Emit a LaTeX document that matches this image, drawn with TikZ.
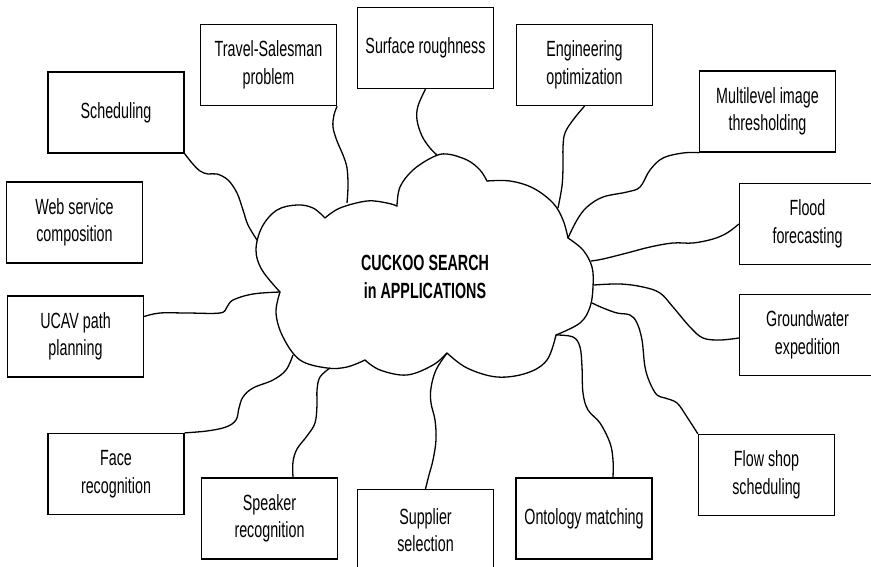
\documentclass[tikz,border=0pt]{standalone}
\usepackage{fontspec}
\setmainfont{Liberation Sans}[FakeStretch=0.65]
\begin{document}
\begin{tikzpicture}[x=1pt,y=-1pt, line width=1.3pt,
  box/.style={draw, minimum width=136pt, minimum height=81pt, align=center, inner sep=0pt, font=\fontsize{22}{27.5}\selectfont},
  link/.style={line join=round},
  cloudline/.style={line cap=round, line join=round}]
\useasboundingbox (0,0) rectangle (871,567);

% boxes
\node[box] (sched) at (116,112.5) {Scheduling};
\node[box] (tsp)   at (268.5,65) {Travel-Salesman\\problem};
\node[box] (surf)  at (425.5,48) {Surface roughness};
\node[box] (eng)   at (584.5,65) {Engineering\\optimization};
\node[box] (multi) at (767.5,111.5) {Multilevel image\\thresholding};
\node[box] (flood) at (807.5,224) {Flood\\forecasting};
\node[box] (web)   at (74.5,222.5) {Web service\\composition};
\node[box] (ucav)  at (75.5,336.5) {UCAV path\\planning};
\node[box] (gw)    at (807.5,335) {Groundwater\\expedition};
\node[box] (face)  at (116,474) {Face\\recognition};
\node[box] (spk)   at (269.5,518.5) {Speaker\\recognition};
\node[box] (supp)  at (425.5,530) {Supplier\\selection};
\node[box] (onto)  at (584,518.5) {Ontology matching};
\node[box] (flow)  at (766.5,475) {Flow shop\\scheduling};

% cloud
\draw[cloudline] plot[smooth, tension=0.6] coordinates {(325,218) (340,208) (367,201) (387,203) (397,206)};
\draw[cloudline] plot[smooth, tension=0.6] coordinates {(397,206) (400,187) (413,170) (433,157) (447,154) (467,160) (480,170) (487,181)};
\draw[cloudline] plot[smooth, tension=0.6] coordinates {(487,181) (510,181) (533,188) (553,203) (563,220) (568,238)};
\draw[cloudline] plot[smooth, tension=0.6] coordinates {(568,238) (583,250) (592,267) (593,287) (590,307) (580,323) (556,335)};
\draw[cloudline] plot[smooth, tension=0.6] coordinates {(556,335) (547,360) (527,373) (497,377) (467,368) (447,353)};
\draw[cloudline] plot[smooth, tension=0.6] coordinates {(447,353) (433,365) (407,375) (380,370) (365,360)};
\draw[cloudline] plot[smooth, tension=0.6] coordinates {(365,360) (347,367) (327,368) (300,360) (283,337) (276,313) (280,292)};
\draw[cloudline] plot[smooth, tension=0.6] coordinates {(280,292) (262,270) (256,250) (262,227) (277,210) (297,205) (313,208) (325,218)};

\node[font=\bfseries\fontsize{22}{28.5}\selectfont, align=center] (title) at (425,277) {CUCKOO SEARCH\\in APPLICATIONS};

% attachment points on the cloud
\coordinate (cSched) at (257,240);
\coordinate (cTsp) at (347,203);
\coordinate (cSurf) at (437,155);
\coordinate (cEng) at (558,208);
\coordinate (cMulti) at (568,238);
\coordinate (cFlood) at (591,261);
\coordinate (cGw) at (594,285);
\coordinate (cFlow) at (592,303);
\coordinate (cOnto) at (556,335);
\coordinate (cSupp) at (447,353);
\coordinate (cSpk) at (330,368);
\coordinate (cFace) at (293,355);
\coordinate (cUcav) at (280,292);

% connectors
\draw[link] plot[smooth, tension=0.6] coordinates {(sched.south east) (192,163) (200,171) (208,174) (217,174) (228,180) (237,193) (243,210) (248,225) (cSched)};
\draw[link] plot[smooth, tension=0.6] coordinates {(tsp.south east) (334,115) (333,127) (337,141) (343,155) (347,168) (348,186) (cTsp)};
\draw[link] plot[smooth, tension=0.6] coordinates {(surf.south) (418,106) (417,120) (422,136) (430,148) (cSurf)};
\draw[link] plot[smooth, tension=0.6] coordinates {(eng.south) (573,120) (565,133) (563,147) (563,167) (562,186) (cEng)};
\draw[link] plot[smooth, tension=0.6] coordinates {(multi.south west) (683,153) (663,158) (650,170) (640,187) (627,192) (603,197) (587,207) (577,220) (cMulti)};
\draw[link] plot[smooth, tension=0.6] coordinates {(flood.west) (727,233) (713,239) (693,243) (673,243) (650,247) (627,253) (603,259) (cFlood)};
\draw[link] plot[smooth, tension=0.6] coordinates {([yshift=-3pt]gw.west) (720,340) (703,338) (690,327) (673,307) (660,293) (643,287) (620,284) (cGw)};
\draw[link] plot[smooth, tension=0.6] coordinates {(flow.north west) (687,417) (677,403) (665,398) (657,395) (650,383) (645,367) (642,340) (637,323) (630,315) (617,313) (603,308) (cFlow)};
\draw[link] plot[smooth, tension=0.6] coordinates {([xshift=29pt]onto.north) (613,460) (610,443) (600,423) (588,410) (583,393) (582,367) (580,347) (573,337) (cOnto)};
\draw[link] plot[smooth, tension=0.6] coordinates {(supp.north) (429,475) (433,460) (436,440) (435,420) (431,403) (431,388) (436,370) (cSupp)};
\draw[link] plot[smooth, tension=0.6] coordinates {([xshift=23.5pt]spk.north) (293,462) (297,449) (307,436) (315,423) (317,405) (317,390) (320,377) (cSpk)};
\draw[link] plot[smooth, tension=0.6] coordinates {(face.north east) (207,431) (226,427) (236,420) (239,408) (243,397) (253,388) (273,380) (286,370) (cFace)};
\draw[link] plot[smooth, tension=0.6] coordinates {([yshift=20pt]ucav.east) (160,313) (187,313) (220,313) (227,307) (233,300) (253,294) (cUcav)};
\end{tikzpicture}
\end{document}
